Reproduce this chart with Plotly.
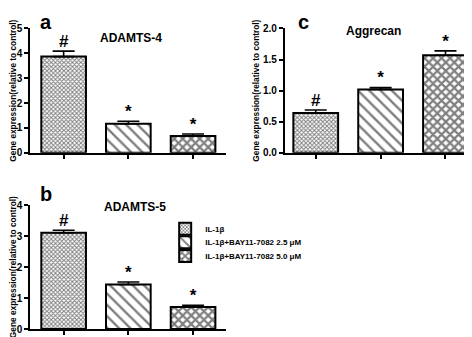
import plotly.graph_objects as go

groups = ["IL-1β", "IL-1β+BAY11-7082 2.5 μM", "IL-1β+BAY11-7082 5.0 μM"]
positions = [0, 1, 2]

adamts4_vals = [3.87, 1.17, 0.68]
adamts4_err = [0.22, 0.10, 0.08]
adamts4_marks = ["#", "*", "*"]

adamts5_vals = [3.11, 1.44, 0.71]
adamts5_err = [0.08, 0.08, 0.06]
adamts5_marks = ["#", "*", "*"]

aggrecan_vals = [0.64, 1.02, 1.57]
aggrecan_err = [0.05, 0.03, 0.07]
aggrecan_marks = ["#", "*", "*"]

patterns = [
    dict(shape="x", size=3, solidity=0.55, fgcolor="black", bgcolor="white", fillmode="overlay"),
    dict(shape="\\", size=8, solidity=0.3, fgcolor="black", bgcolor="white", fillmode="overlay"),
    dict(shape="x", size=6, solidity=0.6, fgcolor="black", bgcolor="white", fillmode="overlay"),
]

FONT = "Liberation Sans, Arial, sans-serif"

fig = go.Figure()

panels = [
    ("x", "y", adamts4_vals, adamts4_err, adamts4_marks, False),
    ("x2", "y2", aggrecan_vals, aggrecan_err, aggrecan_marks, False),
    ("x3", "y3", adamts5_vals, adamts5_err, adamts5_marks, True),
]
legend_ids = ["legend", "legend2", "legend3"]

for xa, ya, vals, errs, marks, show in panels:
    for i in range(3):
        fig.add_trace(go.Bar(
            x=[positions[i]], y=[vals[i]], width=0.69,
            xaxis=xa, yaxis=ya,
            name=groups[i], showlegend=show, legend=legend_ids[i],
            marker=dict(color="white", pattern=patterns[i],
                        line=dict(color="black", width=2)),
            error_y=dict(type="data", array=[errs[i]], arrayminus=[0], symmetric=False,
                         color="black", thickness=1.6, width=11),
        ))
    fig.add_trace(go.Scatter(
        x=positions, y=[v + e for v, e in zip(vals, errs)],
        xaxis=xa, yaxis=ya, mode="text", text=marks,
        textposition="top center", showlegend=False, hoverinfo="skip",
        textfont=dict(family=FONT, size=17, color="black", weight="bold"),
    ))

ytitle = "Gene expression(relative to control)"
axis_common = dict(showline=True, linecolor="black", linewidth=1.5, ticks="outside",
                   ticklen=4, tickwidth=1.5, tickcolor="black", showgrid=False,
                   zeroline=False, tickfont=dict(family=FONT, size=10, color="black", weight="bold"))
xcommon = dict(axis_common, showticklabels=False, tickvals=positions)

def yax(dom, rng, dtick, fmt, anchor):
    return dict(axis_common, domain=dom, range=rng, dtick=dtick, tickformat=fmt, anchor=anchor,
                title=dict(text=ytitle, standoff=2,
                           font=dict(family=FONT, size=8.3, color="black", weight="bold")))

leg_font = dict(family=FONT, size=8, color="black", weight="bold")
leg_common = dict(x=0.333, xanchor="left", yanchor="middle", font=leg_font,
                  bgcolor="rgba(0,0,0,0)", itemwidth=30, borderwidth=0)

fig.update_layout(
    width=472, height=337,
    margin=dict(l=0, r=0, t=0, b=0),
    paper_bgcolor="white", plot_bgcolor="white",
    barmode="overlay",
    xaxis=dict(xcommon, domain=[0.0466, 0.462], range=[-0.52, 2.51], anchor="y"),
    yaxis=yax([0.5727, 0.9555], [0, 5], 1, "d", "x"),
    xaxis2=dict(xcommon, domain=[0.586, 0.9915], range=[-0.48, 2.47], anchor="y2"),
    yaxis2=yax([0.5727, 0.9555], [0, 2], 0.5, ".1f", "x2"),
    xaxis3=dict(xcommon, domain=[0.0466, 0.462], range=[-0.52, 2.51], anchor="y3"),
    yaxis3=yax([0.0306, 0.4116], [0, 4], 1, "d", "x3"),
    legend=dict(leg_common, y=1 - 222.7 / 337),
    legend2=dict(leg_common, y=1 - 236.7 / 337),
    legend3=dict(leg_common, y=1 - 251 / 337),
    showlegend=True,
)

labels = [
    ("a", 38, 8, 20), ("c", 295, 8, 20), ("b", 38, 187, 20),
    ("ADAMTS-4", 123, 25, 12), ("Aggrecan", 365, 18, 12), ("ADAMTS-5", 127, 200, 12),
]
for txt, px, py, sz in labels:
    fig.add_annotation(text=txt, x=px / 472, y=1 - py / 337, xref="paper", yref="paper",
                       showarrow=False, xanchor="center", yanchor="middle",
                       font=dict(family=FONT, size=sz, color="black", weight="bold"))

fig.write_html("out.html")
